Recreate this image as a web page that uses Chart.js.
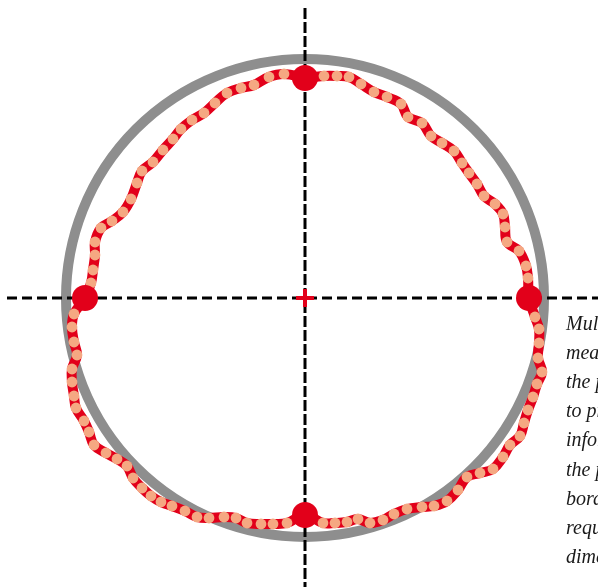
<!DOCTYPE html>
<html>
<head>
<meta charset="utf-8">
<script src="https://cdn.jsdelivr.net/npm/chart.js@4/dist/chart.umd.min.js"></script>
<style>
  html, body { margin: 0; padding: 0; background: #ffffff; }
  #wrap { width: 598px; height: 587px; position: relative; }
</style>
</head>
<body>
<div id="wrap"><canvas id="c"></canvas></div>
<script>
// Measured profile, clockwise from the top; coordinates are offsets from the centre.
const profileX = [0, 19, 32, 44, 56, 69, 82, 96, 103, 117, 126, 137, 149, 157, 164, 172, 179, 190, 198, 200, 202, 214, 221, 223,
  224, 230, 234, 234, 233, 237, 232, 228, 223, 219, 215, 205, 198, 188, 175, 162, 153, 142, 129, 117, 102, 89, 78, 65, 53, 42, 30, 18,
  0, -18, -32, -44, -58, -69, -81, -96, -108, -120, -133, -144, -154, -163, -172, -178, -188, -199, -211, -216, -221, -229, -231, -233, -233, -228, -231, -233, -231,
  -220, -214, -212, -210, -210, -204, -193, -182, -174, -168, -163, -152, -142, -132, -124, -113, -101, -90, -78, -64, -51, -36, -21, 0];
const profileY = [220, 222, 222, 221, 214, 206, 201, 194, 181, 175, 162, 155, 147, 135, 125, 114, 102, 94, 84, 71, 56, 47, 32, 20,
  0, -19, -31, -45, -60, -74, -86, -99, -112, -125, -138, -147, -159, -171, -175, -179, -192, -203, -208, -209, -211, -216, -222, -225, -221, -224, -225, -225,
  -217, -225, -226, -226, -225, -220, -219, -220, -219, -213, -208, -204, -198, -190, -180, -168, -161, -155, -147, -134, -123, -110, -98, -84, -71, -57, -44, -29, -16,
  0, 15, 28, 43, 56, 70, 77, 86, 99, 115, 127, 136, 148, 159, 169, 178, 185, 195, 205, 210, 213, 221, 224, 220];

// Reference points on the two axes
const anchorX = [0, 224, 0, -220];
const anchorY = [220, 0, -217, 0];

// Nominal circle and the visible extent of the drawing
const nominalRadius = 239;
const extentX = [-305, 293];
const extentY = [-289, 298];

const noteLines = [
  'Multiple points are',
  'measured around',
  'the perimeter',
  'to provide',
  'information on',
  'the profile of the',
  'border against the',
  'required',
  'dimension.'
];

const RED = '#e2001a';
const PEACH = '#f5a882';
const GREY = '#8e8e8e';

const toPoints = (xs, ys) => xs.map((x, i) => ({ x: x, y: ys[i] }));

// Nominal circle and dashed axes, drawn underneath the datasets
const backdrop = {
  id: 'backdrop',
  beforeDatasetsDraw(chart) {
    const { ctx, scales: { x, y } } = chart;
    const cx = x.getPixelForValue(0);
    const cy = y.getPixelForValue(0);
    const r = x.getPixelForValue(nominalRadius) - cx;
    ctx.save();
    ctx.strokeStyle = GREY;
    ctx.lineWidth = 10;
    ctx.beginPath();
    ctx.arc(cx, cy, r, 0, Math.PI * 2);
    ctx.stroke();

    ctx.strokeStyle = '#000000';
    ctx.lineWidth = 3;
    ctx.setLineDash([10, 5]);
    ctx.beginPath();
    ctx.moveTo(x.getPixelForValue(-298), cy);
    ctx.lineTo(x.getPixelForValue(extentX[1]), cy);
    ctx.stroke();
    ctx.setLineDash([11, 3]);
    ctx.beginPath();
    ctx.moveTo(cx, y.getPixelForValue(290));
    ctx.lineTo(cx, y.getPixelForValue(extentY[0]));
    ctx.stroke();
    ctx.restore();
  },
  afterDraw(chart) {
    const { ctx } = chart;
    ctx.save();
    ctx.fillStyle = '#1a1a1a';
    ctx.font = 'italic 20px "Liberation Serif", "DejaVu Serif", serif';
    ctx.textBaseline = 'alphabetic';
    ctx.textAlign = 'left';
    noteLines.forEach((t, i) => ctx.fillText(t, 566, 330 + i * 29.1));
    ctx.restore();
  }
};

new Chart(document.getElementById('c'), {
  type: 'scatter',
  data: {
    datasets: [
      {
        label: 'Centre',
        data: [{ x: 0, y: 0 }],
        pointStyle: 'cross',
        pointRadius: 9,
        pointBorderWidth: 4,
        borderColor: RED,
        backgroundColor: RED,
        order: 0
      },
      {
        label: 'Axis points',
        data: toPoints(anchorX, anchorY),
        pointRadius: 13,
        pointBackgroundColor: RED,
        pointBorderWidth: 0,
        borderColor: RED,
        backgroundColor: RED,
        order: 1
      },
      {
        label: 'Profile',
        data: toPoints(profileX, profileY),
        showLine: true,
        borderColor: RED,
        borderWidth: 10,
        tension: 0.4,
        pointRadius: 5.4,
        pointBackgroundColor: PEACH,
        pointBorderWidth: 0,
        backgroundColor: PEACH,
        order: 2
      }
    ]
  },
  options: {
    responsive: true,
    maintainAspectRatio: false,
    animation: false,
    layout: { padding: 0, autoPadding: false },
    plugins: { legend: { display: false }, tooltip: { enabled: false } },
    scales: {
      x: { type: 'linear', min: extentX[0], max: extentX[1], display: false },
      y: { type: 'linear', min: extentY[0], max: extentY[1], display: false }
    }
  },
  plugins: [backdrop]
});
</script>
</body>
</html>
